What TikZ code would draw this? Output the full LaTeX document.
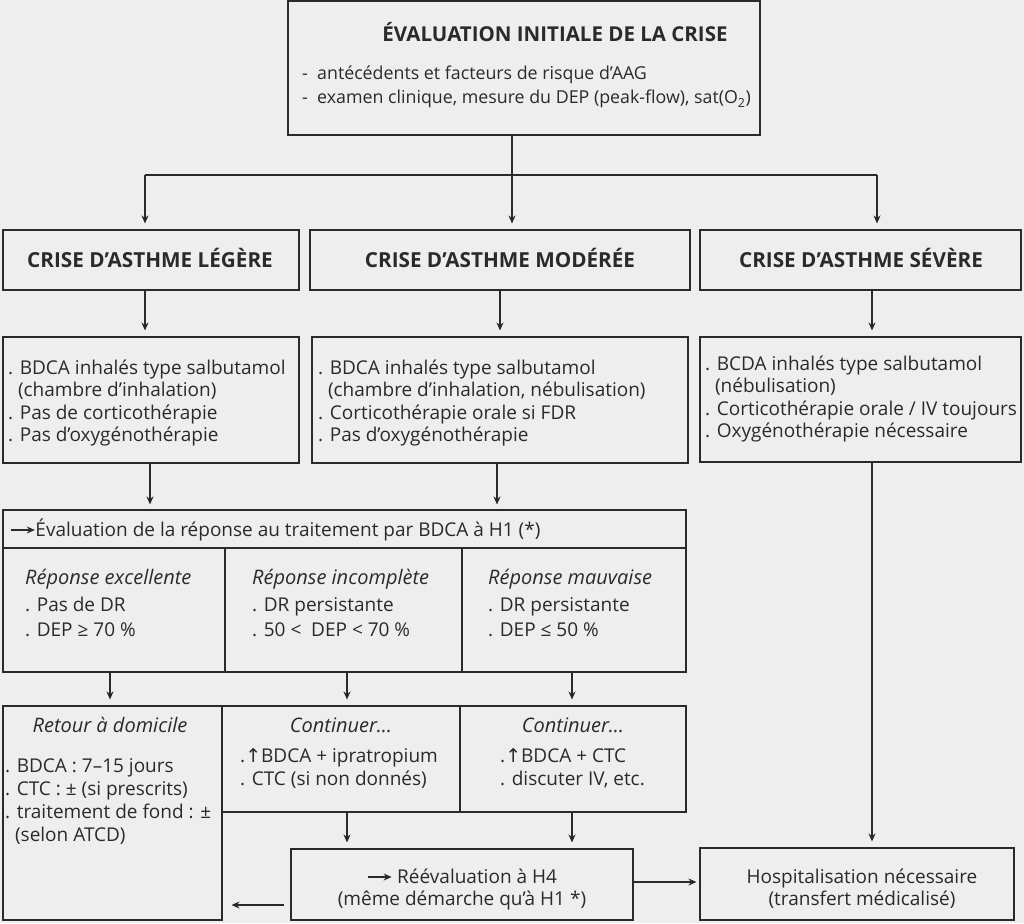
\documentclass[tikz,border=0pt]{standalone}
\usepackage{fontspec}
\setmainfont{Open Sans}
\newfontfamily\symf{DejaVu Sans}
\usetikzlibrary{fit,arrows.meta}
\definecolor{bg}{HTML}{EEEEEE}
\definecolor{ink}{HTML}{2A2A2A}
\tikzset{
  box/.style={draw=ink, line width=1.1pt, inner sep=0pt},
  arr/.style={draw=ink, line width=1.1pt, -{Stealth[length=8pt,width=7pt]}},
  ln/.style={draw=ink, line width=1.1pt},
  txt/.style={anchor=base west, inner sep=0pt, text=ink, font=\fontsize{19}{22}\selectfont},
  ctxt/.style={anchor=base, inner sep=0pt, text=ink, font=\fontsize{19}{22}\selectfont},
  itxt/.style={inner sep=0pt, text=ink, font=\fontsize{20}{22}\selectfont\itshape},
  btxt/.style={anchor=base, inner sep=0pt, text=ink, font=\fontsize{20.7}{22}\selectfont\bfseries},
}
\newcommand{\longarr}{\tikz[baseline=0pt,x=1pt,y=1pt]\draw[draw=ink, line width=1.3pt, -{Stealth[length=8pt,width=7pt]}] (0,6) -- (24,6);}
\newcommand{\uarr}{{\symf ↑}}
\begin{document}
\begin{tikzpicture}[x=1pt,y=-1pt]
\fill[bg] (0,0) rectangle (1024,923);
\useasboundingbox (0,0) rectangle (1024,923);
% boxes
\node[box, fit={(288,1) (760,135)}] (top) {};
\node[box, fit={(3,230) (299,290)}] (mild) {};
\node[box, fit={(310,230) (690,290)}] (mod) {};
\node[box, fit={(700,230) (1021,290)}] (sev) {};
\node[box, fit={(3,337) (299,463)}] (mildt) {};
\node[box, fit={(312,337) (688,463)}] (modt) {};
\node[box, fit={(700,337) (1021,462)}] (sevt) {};
\node[box, fit={(3,510) (686,672)}] (eval) {};
\draw[ln] (3,548) -- (686,548);
\draw[ln] (225,548) -- (225,672);
\draw[ln] (462,548) -- (462,672);
\node[box, fit={(3,706) (222,920)}] (ret) {};
\node[box, fit={(222,706) (460,812)}] (cont1) {};
\node[box, fit={(460,706) (686,812)}] (cont2) {};
\node[box, fit={(291,849) (633,920)}] (reev) {};
\node[box, fit={(700,848) (1014,920)}] (hosp) {};
% texts
\node[btxt, font=\fontsize{20.5}{22}\selectfont\bfseries] (t0) at (555,42) {ÉVALUATION INITIALE DE LA CRISE};
\node[txt, font=\fontsize{17.8}{22}\selectfont] (t1) at (302,80) {-\ \ antécédents et facteurs de risque d’AAG};
\node[txt, font=\fontsize{17.8}{22}\selectfont] (t2) at (302,104) {-\ \ examen clinique, mesure du DEP (peak-flow), sat(O\textsubscript{2})};
\node[btxt] (m0) at (150,267) {CRISE D’ASTHME LÉGÈRE};
\node[btxt] (m1) at (500,267) {CRISE D’ASTHME MODÉRÉE};
\node[btxt] (m2) at (861,267) {CRISE D’ASTHME SÉVÈRE};
\node[txt] (a1) at (8,374) {. BDCA inhalés type salbutamol};
\node[txt] (a2) at (8,396) {\ \ (chambre d’inhalation)};
\node[txt] (a3) at (8,419) {. Pas de corticothérapie};
\node[txt] (a4) at (8,441) {. Pas d’oxygénothérapie};
\node[txt] (b1) at (318,374) {. BDCA inhalés type salbutamol};
\node[txt] (b2) at (318,396) {\ \ (chambre d’inhalation, nébulisation)};
\node[txt] (b3) at (318,419) {. Corticothérapie orale si FDR};
\node[txt] (b4) at (318,441) {. Pas d’oxygénothérapie};
\node[txt] (c1) at (705,370) {. BCDA inhalés type salbutamol};
\node[txt] (c2) at (705,392) {\ \ (nébulisation)};
\node[txt] (c3) at (705,415) {. Corticothérapie orale / IV toujours};
\node[txt] (c4) at (705,437) {. Oxygénothérapie nécessaire};
\node[txt] (e0) at (10,536) {\longarr Évaluation de la réponse au traitement par BDCA à H1 (*)};
\node[itxt, anchor=base west] (e1) at (25,584) {Réponse excellente};
\node[txt] (e2) at (25,611) {. Pas de DR};
\node[txt] (e3) at (25,636) {. DEP ≥ 70 \%};
\node[itxt, anchor=base west] (f1) at (252,584) {Réponse incomplète};
\node[txt] (f2) at (252,611) {. DR persistante};
\node[txt] (f3) at (252,636) {. 50 <\ \ DEP < 70 \%};
\node[itxt, anchor=base west] (g1) at (488,584) {Réponse mauvaise};
\node[txt] (g2) at (488,611) {. DR persistante};
\node[txt] (g3) at (488,636) {. DEP ≤ 50 \%};
\node[itxt, anchor=base] (r0) at (110,732) {Retour à domicile};
\node[txt] (r1) at (5,772) {. BDCA : 7–15 jours};
\node[txt] (r2) at (5,795) {. CTC : ± (si prescrits)};
\node[txt] (r3) at (5,818) {. traitement de fond : ±};
\node[txt] (r4) at (5,841) {\ \ (selon ATCD)};
\node[itxt, anchor=base] (p0) at (341,732) {Continuer…};
\node[txt] (p1) at (240,762) {.\uarr BDCA + ipratropium};
\node[txt] (p2) at (240,785) {. CTC (si non donnés)};
\node[itxt, anchor=base] (q0) at (573,732) {Continuer…};
\node[txt] (q1) at (500,762) {.\uarr BDCA + CTC};
\node[txt] (q2) at (500,785) {. discuter IV, etc.};
\node[ctxt] (v1) at (462,883) {\longarr\ Réévaluation à H4};
\node[ctxt] (v2) at (462,905) {(même démarche qu’à H1 *)};
\node[ctxt] (h1) at (862,883) {Hospitalisation nécessaire};
\node[ctxt] (h2) at (862,905) {(transfert médicalisé)};
% connectors
\coordinate (sp) at (512,175);
\coordinate (hl) at (145,175);
\coordinate (hr) at (877,175);
\draw[ln] (top.south -| sp) -- (sp);
\draw[ln] (hl) -- (hr);
\draw[arr, shorten >=6pt] (hl) -- (hl |- mild.north);
\draw[arr, shorten >=6pt] (sp) -- (sp |- mod.north);
\draw[arr, shorten >=6pt] (hr) -- (hr |- sev.north);
\coordinate (x1) at (145,0);
\coordinate (x2) at (500,0);
\coordinate (x3) at (872,0);
\draw[arr, shorten >=6pt] (mild.south -| x1) -- (mildt.north -| x1);
\draw[arr, shorten >=6pt] (mod.south -| x2) -- (modt.north -| x2);
\draw[arr, shorten >=6pt] (sev.south -| x3) -- (sevt.north -| x3);
\coordinate (x4) at (150,0);
\coordinate (x5) at (497,0);
\draw[arr, shorten >=5pt] (mildt.south -| x4) -- (eval.north -| x4);
\draw[arr, shorten >=5pt] (modt.south -| x5) -- (eval.north -| x5);
\coordinate (x6) at (110,0);
\coordinate (x7) at (347,0);
\coordinate (x8) at (572,0);
\draw[arr, shorten >=6pt] (eval.south -| x6) -- (ret.north -| x6);
\draw[arr, shorten >=6pt] (eval.south -| x7) -- (cont1.north -| x7);
\draw[arr, shorten >=6pt] (eval.south -| x8) -- (cont2.north -| x8);
\draw[arr, shorten >=6pt] (cont1.south -| x7) -- (reev.north -| x7);
\draw[arr, shorten >=6pt] (cont2.south -| x8) -- (reev.north -| x8);
\draw[arr, shorten >=6pt] (sevt.south -| x3) -- (hosp.north -| x3);
\coordinate (y1) at (0,905);
\coordinate (y2) at (0,882);
\draw[arr, shorten <=6pt, shorten >=9pt] (reev.west |- y1) -- (ret.east |- y1);
\draw[arr, shorten >=3pt] (reev.east |- y2) -- (hosp.west |- y2);
\end{tikzpicture}
\end{document}
